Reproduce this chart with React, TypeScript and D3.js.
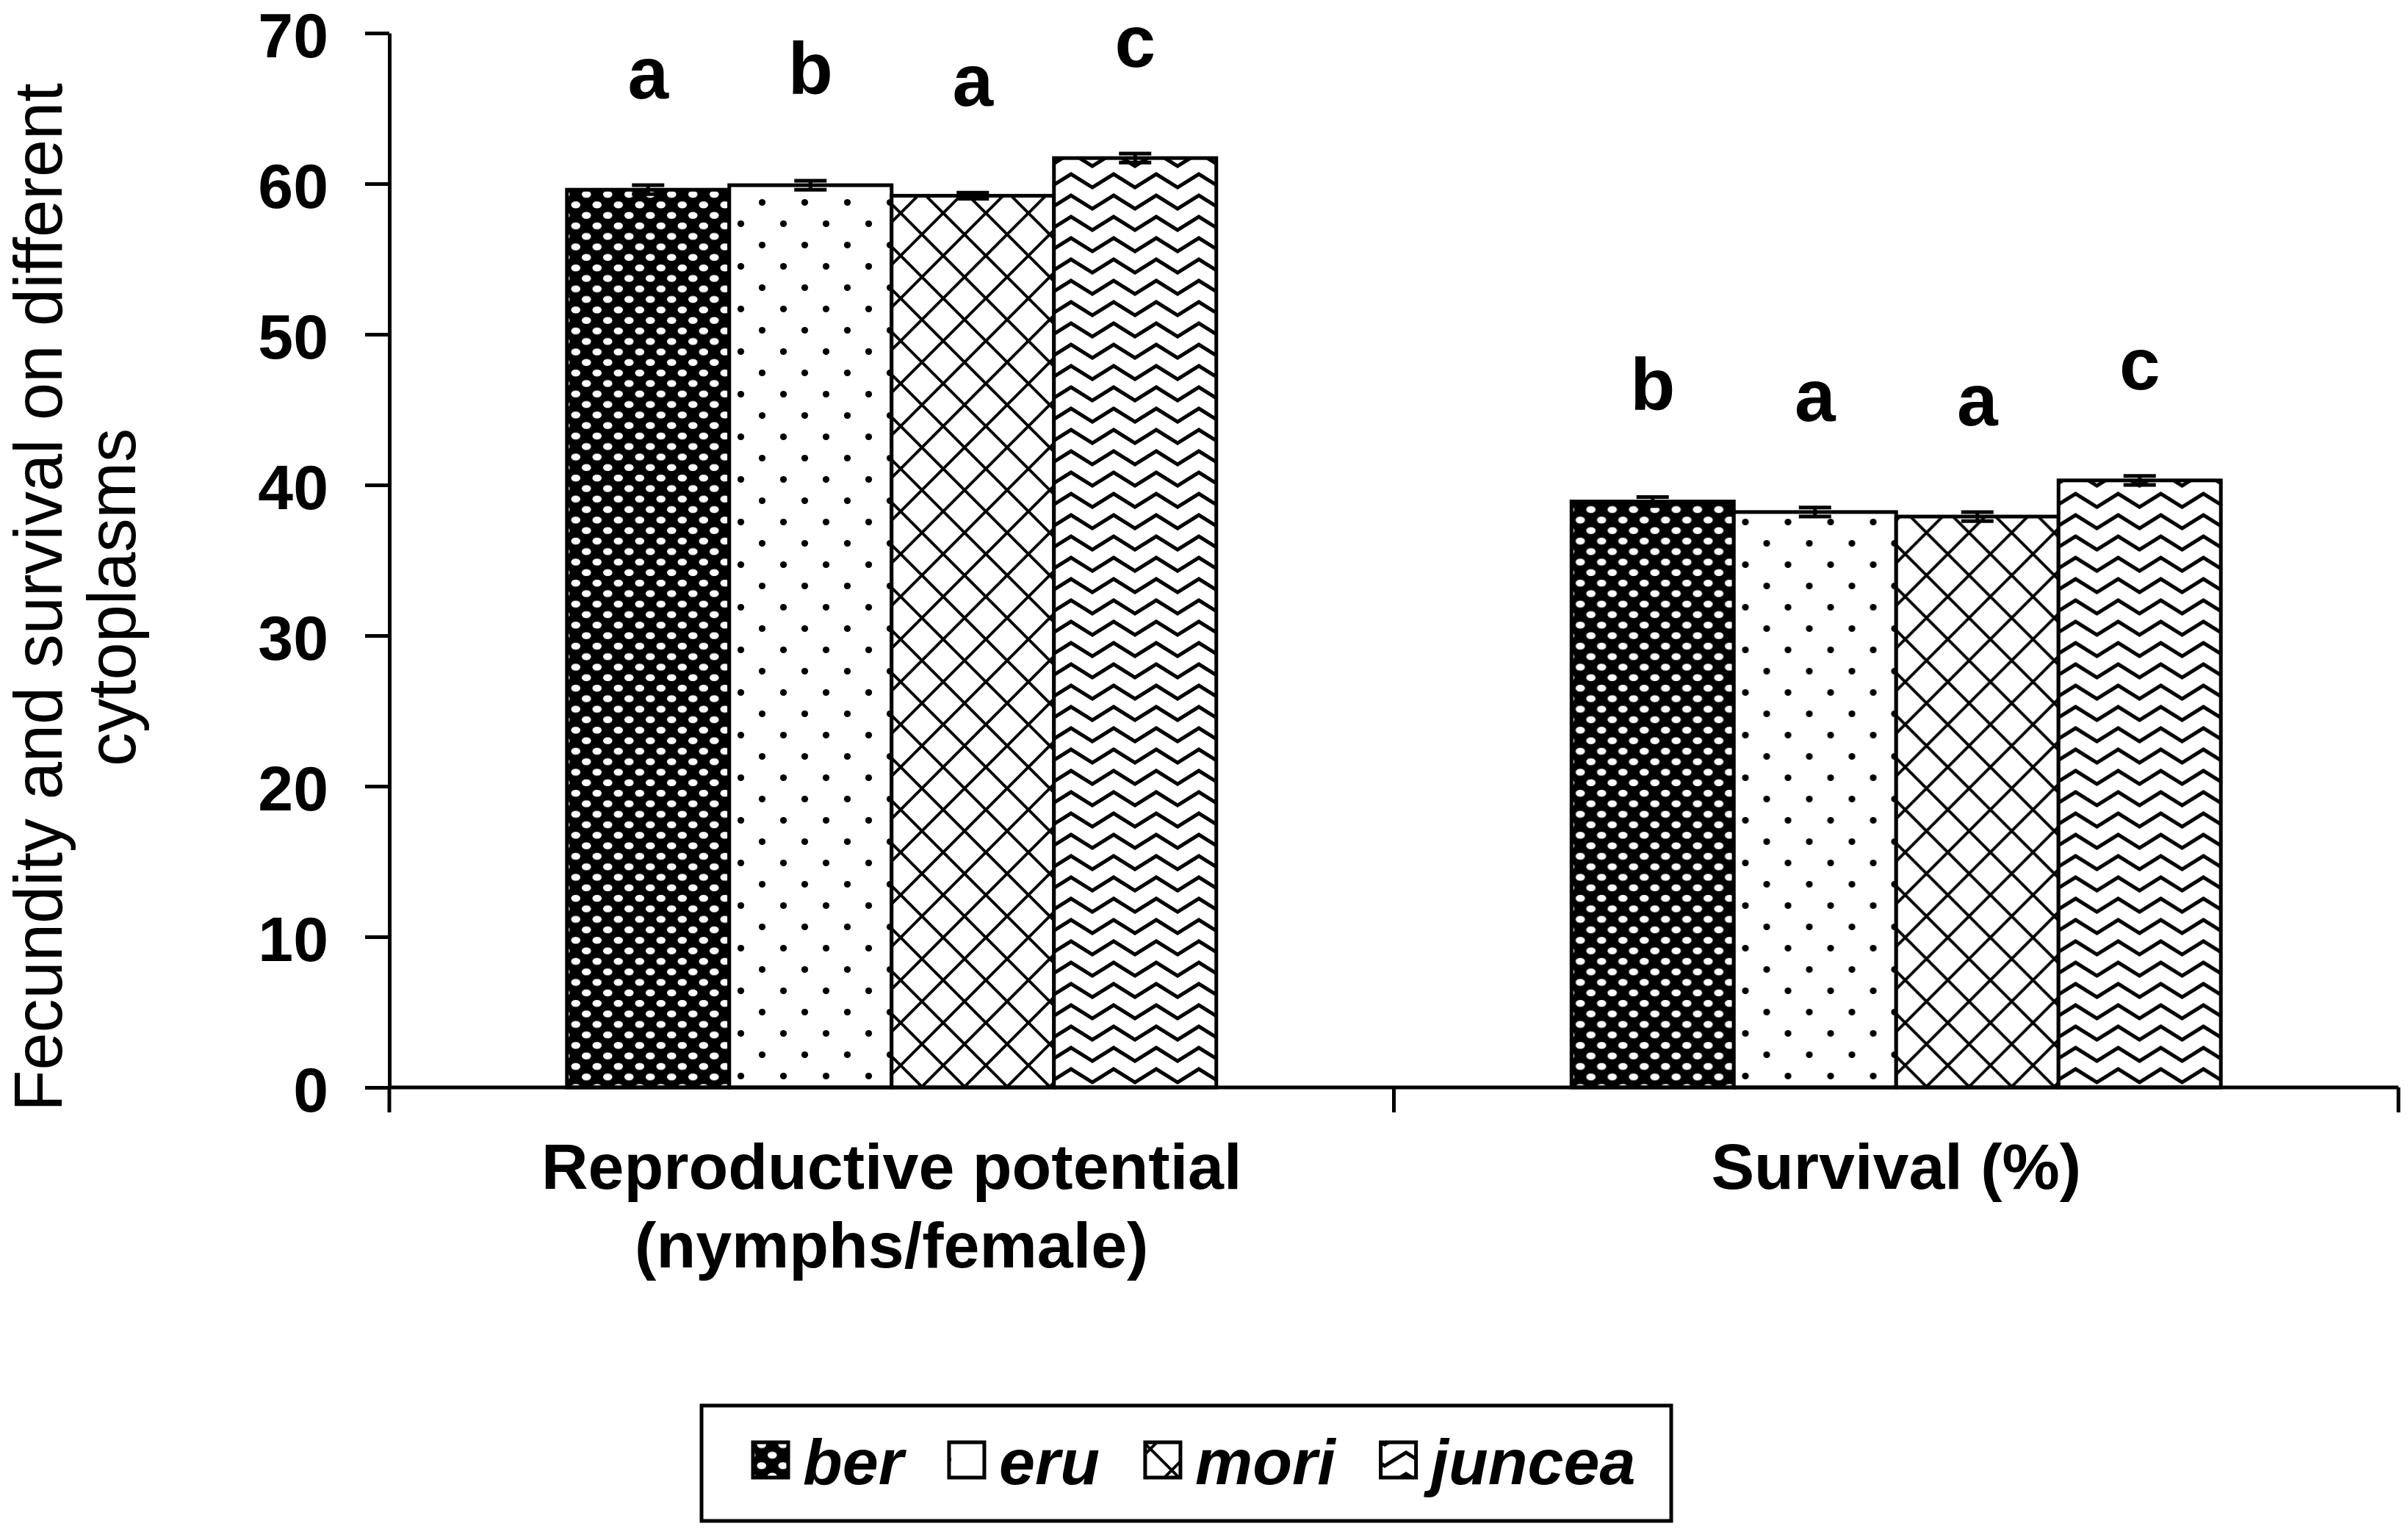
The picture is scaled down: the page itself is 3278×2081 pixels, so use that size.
import * as d3 from "d3";
import { useEffect, useRef } from "react";

// categories on the x axis (each label can wrap to several lines)
const categories = ["Reproductive potential", "Survival (%)"];
const categoryLines = [["Reproductive potential", "(nymphs/female)"], ["Survival (%)"]];

// cytoplasm series
const series = ["ber", "eru", "mori", "juncea"];

// values
const reproValues = [59.6, 59.9, 59.2, 61.7];
const survivalValues = [38.9, 38.2, 37.9, 40.3];
const reproErrors = [0.3, 0.3, 0.2, 0.3];
const survivalErrors = [0.3, 0.3, 0.3, 0.3];
const reproLetters = ["a", "b", "a", "c"];
const survivalLetters = ["b", "a", "a", "c"];

const yTicks = [0, 10, 20, 30, 40, 50, 60, 70];
const yTitleLines = ["Fecundity and survival on different", "cytoplasms"];

const FONT = "'Liberation Sans', Arial, Helvetica, sans-serif";

const App = () => {
  const svgRef = useRef<SVGSVGElement>(null);

  useEffect(() => {
    const svg = d3.select(svgRef.current);
    svg.selectAll("*").remove();

    const W = 3278;
    const H = 2081;
    const left = 530;
    const right = 3265;
    const top = 45;
    const bottom = 1480;

    svg.attr("width", W).attr("height", H).attr("viewBox", `0 0 ${W} ${H}`);
    svg.append("rect").attr("width", W).attr("height", H).attr("fill", "#fff");

    const table = categories.map((cat, i) =>
      series.map((s, j) => ({
        cat,
        s,
        value: i === 0 ? reproValues[j] : survivalValues[j],
        err: i === 0 ? reproErrors[j] : survivalErrors[j],
        letter: i === 0 ? reproLetters[j] : survivalLetters[j],
      }))
    );

    const x0 = d3.scaleBand().domain(categories).range([left, right]).padding(0);
    const x1 = d3
      .scaleBand()
      .domain(series)
      .range([0, x0.bandwidth()])
      .paddingInner(0)
      .paddingOuter(1.094);
    const y = d3.scaleLinear().domain([0, 70]).range([bottom, top]);

    // hatch patterns
    const defs = svg.append("defs");

    const pBer = defs
      .append("pattern")
      .attr("id", "p-ber")
      .attr("patternUnits", "userSpaceOnUse")
      .attr("width", 29)
      .attr("height", 28.6);
    pBer.append("rect").attr("width", 29).attr("height", 28.6).attr("fill", "#000");
    [
      [7.25, 7.15],
      [21.75, 21.45],
    ].forEach(([cx, cy]) =>
      pBer
        .append("ellipse")
        .attr("cx", cx)
        .attr("cy", cy)
        .attr("rx", 6.3)
        .attr("ry", 4.8)
        .attr("fill", "#fff")
    );

    const pEru = defs
      .append("pattern")
      .attr("id", "p-eru")
      .attr("patternUnits", "userSpaceOnUse")
      .attr("width", 58)
      .attr("height", 58);
    pEru.append("rect").attr("width", 58).attr("height", 58).attr("fill", "#fff");
    [
      [14.5, 14.5],
      [43.5, 43.5],
    ].forEach(([cx, cy]) =>
      pEru.append("circle").attr("cx", cx).attr("cy", cy).attr("r", 4.6).attr("fill", "#000")
    );

    const pMori = defs
      .append("pattern")
      .attr("id", "p-mori")
      .attr("patternUnits", "userSpaceOnUse")
      .attr("width", 58)
      .attr("height", 58);
    pMori.append("rect").attr("width", 58).attr("height", 58).attr("fill", "#fff");
    pMori
      .append("path")
      .attr(
        "d",
        "M-10,-10L68,68M-10,48L10,68M48,-10L68,10M68,-10L-10,68M-10,10L10,-10M48,68L68,48"
      )
      .attr("stroke", "#000")
      .attr("stroke-width", 4)
      .attr("fill", "none");

    const pJun = defs
      .append("pattern")
      .attr("id", "p-juncea")
      .attr("patternUnits", "userSpaceOnUse")
      .attr("width", 58)
      .attr("height", 29);
    pJun.append("rect").attr("width", 58).attr("height", 29).attr("fill", "#fff");
    pJun
      .append("path")
      .attr("d", "M-29,23L0,5L29,23L58,5L87,23")
      .attr("stroke", "#000")
      .attr("stroke-width", 5)
      .attr("stroke-linejoin", "miter")
      .attr("fill", "none");

    const fillOf = (s: string) => `url(#p-${s})`;

    // Y axis
    const yAxis = svg
      .append("g")
      .attr("transform", `translate(${left},0)`)
      .call(
        d3
          .axisLeft(y)
          .tickValues(yTicks)
          .tickSize(33)
          .tickSizeOuter(0)
          .tickPadding(50)
          .tickFormat((d) => `${d}`)
      );
    yAxis.select(".domain").attr("stroke", "#000").attr("stroke-width", 5);
    yAxis.selectAll(".tick line").attr("stroke", "#000").attr("stroke-width", 5);
    yAxis
      .selectAll(".tick text")
      .attr("font-family", FONT)
      .attr("font-weight", "bold")
      .attr("font-size", 86)
      .attr("dy", "0.38em")
      .attr("fill", "#000");

    // Y title (two rotated lines)
    const yTitleX = [84, 184];
    const yMid = 813;
    yTitleLines.forEach((line, i) => {
      svg
        .append("text")
        .attr("transform", `translate(${yTitleX[i]},${yMid}) rotate(-90)`)
        .attr("text-anchor", "middle")
        .attr("font-family", FONT)
        .attr("font-size", 92)
        .attr("fill", "#000")
        .text(line);
    });

    // bars
    const groups = svg
      .selectAll(".cat")
      .data(table)
      .enter()
      .append("g")
      .attr("class", "cat")
      .attr("transform", (d) => `translate(${x0(d[0].cat)},0)`);

    groups
      .selectAll("rect.bar")
      .data((d) => d)
      .enter()
      .append("rect")
      .attr("class", "bar")
      .attr("x", (d) => x1(d.s) || 0)
      .attr("y", (d) => y(d.value))
      .attr("width", x1.bandwidth())
      .attr("height", (d) => y(0) - y(d.value))
      .attr("fill", (d) => fillOf(d.s))
      .attr("stroke", "#000")
      .attr("stroke-width", 5);

    // error bars
    const eb = groups
      .selectAll("g.err")
      .data((d) => d)
      .enter()
      .append("g")
      .attr("class", "err")
      .attr("stroke", "#000")
      .attr("stroke-width", 5);
    const cx = (d: any) => (x1(d.s) || 0) + x1.bandwidth() / 2;
    eb.append("line")
      .attr("x1", cx)
      .attr("x2", cx)
      .attr("y1", (d) => y(d.value - d.err))
      .attr("y2", (d) => y(d.value + d.err));
    [1, -1].forEach((sgn) =>
      eb
        .append("line")
        .attr("x1", (d) => cx(d) - 22)
        .attr("x2", (d) => cx(d) + 22)
        .attr("y1", (d) => y(d.value + sgn * d.err))
        .attr("y2", (d) => y(d.value + sgn * d.err))
    );

    // significance letters
    groups
      .selectAll("text.letter")
      .data((d) => d)
      .enter()
      .append("text")
      .attr("class", "letter")
      .attr("x", cx)
      .attr("y", (d) => y(d.value + d.err) - 118)
      .attr("text-anchor", "middle")
      .attr("font-family", FONT)
      .attr("font-weight", "bold")
      .attr("font-size", 100)
      .attr("fill", "#000")
      .text((d) => d.letter);

    // X axis
    const xAxis = svg.append("g");
    xAxis
      .append("line")
      .attr("x1", left)
      .attr("x2", right)
      .attr("y1", y(0))
      .attr("y2", y(0))
      .attr("stroke", "#000")
      .attr("stroke-width", 5);
    const boundaries = [...categories.map((c) => x0(c) || 0), right];
    xAxis
      .selectAll("line.tick")
      .data(boundaries)
      .enter()
      .append("line")
      .attr("class", "tick")
      .attr("x1", (d) => d)
      .attr("x2", (d) => d)
      .attr("y1", y(0))
      .attr("y2", y(0) + 34)
      .attr("stroke", "#000")
      .attr("stroke-width", 5);

    categories.forEach((c, i) => {
      const t = xAxis
        .append("text")
        .attr("x", (x0(c) || 0) + x0.bandwidth() / 2)
        .attr("y", 1618)
        .attr("text-anchor", "middle")
        .attr("font-family", FONT)
        .attr("font-weight", "bold")
        .attr("font-size", 88)
        .attr("fill", "#000");
      categoryLines[i].forEach((line, k) => {
        t.append("tspan")
          .attr("x", (x0(c) || 0) + x0.bandwidth() / 2)
          .attr("dy", k === 0 ? 0 : 107)
          .text(line);
      });
    });

    // legend
    const legend = svg.append("g");
    legend
      .append("rect")
      .attr("x", 955)
      .attr("y", 1913)
      .attr("width", 2275 - 955)
      .attr("height", 2070 - 1913)
      .attr("fill", "#fff")
      .attr("stroke", "#000")
      .attr("stroke-width", 5);
    let lx = 1025;
    series.forEach((s) => {
      legend
        .append("rect")
        .attr("x", lx)
        .attr("y", 1963)
        .attr("width", 48)
        .attr("height", 48)
        .attr("fill", fillOf(s))
        .attr("stroke", "#000")
        .attr("stroke-width", 5);
      const txt = legend
        .append("text")
        .attr("x", lx + 68)
        .attr("y", 2020)
        .attr("font-family", FONT)
        .attr("font-weight", "bold")
        .attr("font-style", "italic")
        .attr("font-size", 88)
        .attr("fill", "#000")
        .text(s);
      const w = (txt.node() as SVGTextElement).getComputedTextLength();
      lx += 68 + w + 62;
    });
  }, []);

  return (
    <svg
      ref={svgRef}
      style={{ position: "absolute", left: 0, top: 0, display: "block" }}
    ></svg>
  );
};

export default App;
